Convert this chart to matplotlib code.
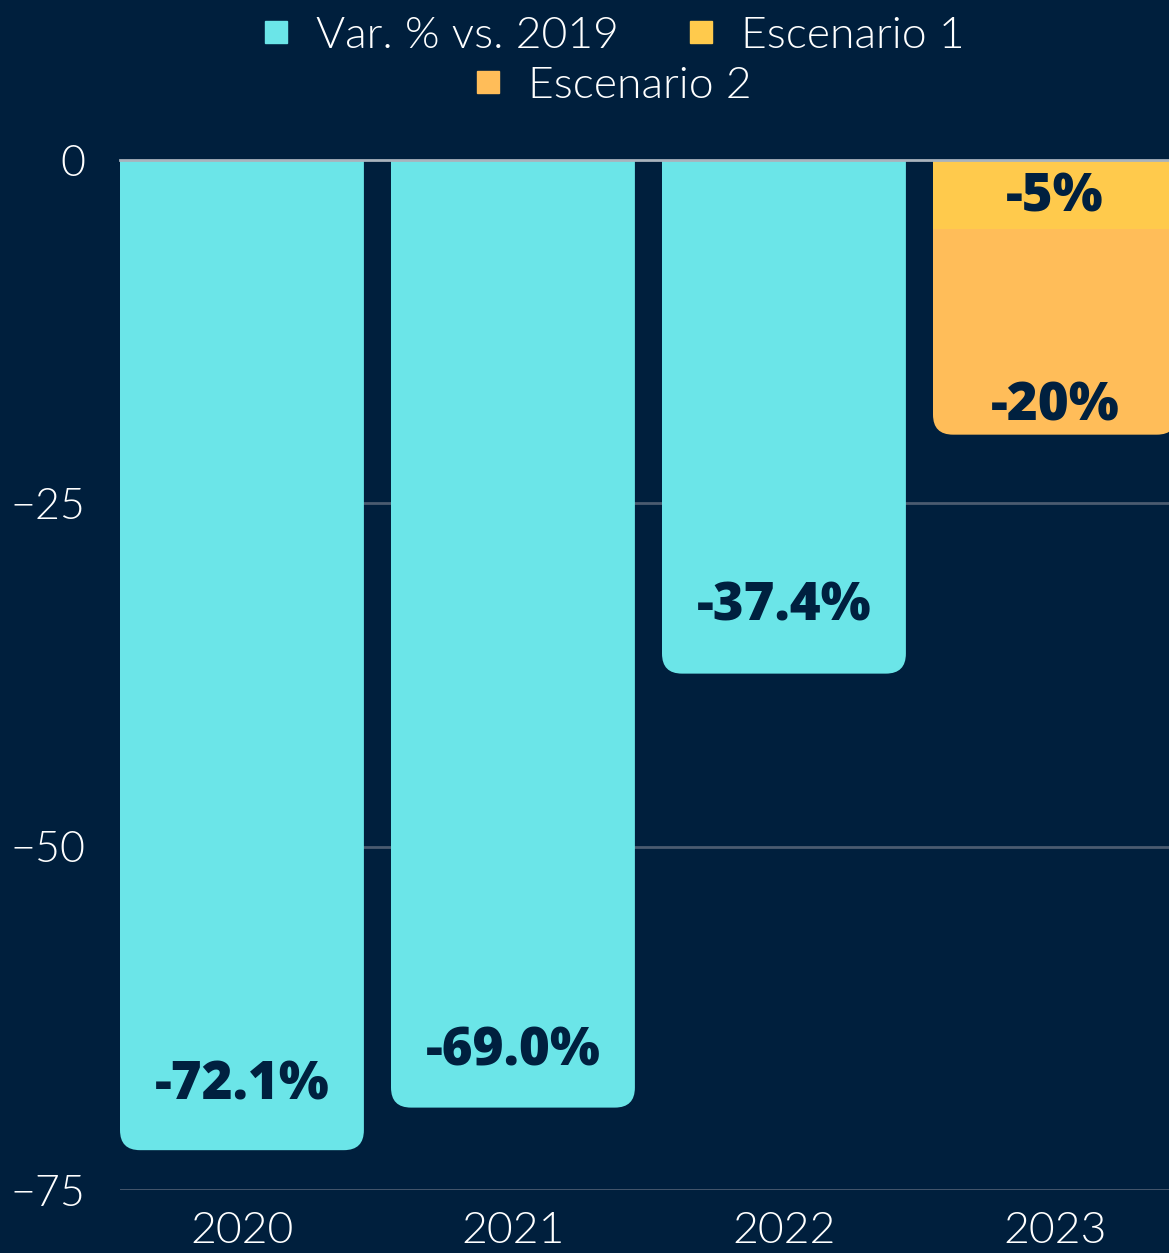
import matplotlib
matplotlib.use("Agg")
import matplotlib.pyplot as plt
import numpy as np
from matplotlib.patches import FancyBboxPatch
from matplotlib.lines import Line2D

# datos
years = ["2020", "2021", "2022", "2023"]
var_vs_2019 = [-72.1, -69.0, -37.4, np.nan]
escenario_1 = -5
escenario_2 = -20
y_ticks = [0, -25, -50, -75]

BG = "#001F3D"
CYAN = "#6BE5E8"
YELLOW = "#FFCA4C"
ORANGE = "#FFBD59"
NAVY = "#00203F"
LIGHT = 300

plt.rcParams["font.family"] = ["Lato", "DejaVu Sans"]

W, H = 1169, 1253
fig = plt.figure(figsize=(W / 100, H / 100), dpi=100, facecolor=BG)
ax = fig.add_axes([120 / W, 1 - 1190 / H, 1 - 120 / W, (1190 - 160) / H])
ax.set_facecolor(BG)

x = np.arange(len(years))
w = 0.9
b1 = ax.bar(x, var_vs_2019, width=w, color=CYAN, zorder=2)
b3 = ax.bar(x[3], escenario_2, width=w, color=ORANGE, zorder=2)
b2 = ax.bar(x[3], escenario_1, width=w, color=YELLOW, zorder=3)

ax.set_xlim(-0.45, -0.45 + (W - 120) / 271)
ax.set_ylim(-75, 0)

# esquinas redondeadas abajo (arriba se recorta en 0)
px_x = 1 / 271
px_y = 75 / 1030
r = 20
def round_bars(bars, rounded=True):
    for rect in bars:
        if np.isnan(rect.get_height()):
            continue
        x0, y0 = rect.get_x(), rect.get_y()
        ww, hh = rect.get_width(), rect.get_height()
        bottom = min(y0, y0 + hh)
        top = max(y0, y0 + hh)
        color = rect.get_facecolor()
        z = rect.get_zorder()
        rect.remove()
        if rounded:
            p = FancyBboxPatch((x0, bottom), ww, top - bottom + 5,
                               boxstyle=f"round,pad=0,rounding_size={r * px_x}",
                               mutation_aspect=px_y / px_x,
                               fc=color, ec="none", zorder=z)
        else:
            p = FancyBboxPatch((x0, bottom), ww, top - bottom,
                               boxstyle="square,pad=0", fc=color, ec="none", zorder=z)
        ax.add_patch(p)

round_bars(b1)
round_bars(b3)
round_bars(b2, rounded=False)

# grid
for t in y_ticks[1:]:
    ax.axhline(t, color="#4B5B70", lw=2, zorder=1)
ax.axhline(0, color="#A9B3BD", lw=2, zorder=4, clip_on=False)

for s in ax.spines.values():
    s.set_visible(False)
ax.set_yticks(y_ticks)
ax.set_yticklabels([str(t).replace("-", "\u2212") for t in y_ticks])
ax.set_xticks(x)
ax.set_xticklabels(years)
ax.tick_params(axis="y", length=0, pad=25, labelsize=31, labelcolor="white")
ax.tick_params(axis="x", length=0, pad=16, labelsize=32, labelcolor="white")
for lab in ax.get_xticklabels() + ax.get_yticklabels():
    lab.set_fontweight(LIGHT)

# etiquetas
lab_font = dict(family=["Open Sans", "DejaVu Sans"], fontweight="heavy",
                fontsize=38, color=NAVY, ha="center", va="center", zorder=5)
offsets = [4.7, 4.05, 4.85]
for i, v in enumerate(var_vs_2019[:3]):
    ax.text(x[i], v + offsets[i], f"{v:.1f}%", **lab_font)
ax.text(x[3], escenario_1 + 2.2, f"{escenario_1}%", **lab_font)
ax.text(x[3], escenario_2 + 2.0, f"{escenario_2}%", **lab_font)

# leyenda
def handle(c):
    return Line2D([], [], marker="s", ls="none", markersize=16,
                  markerfacecolor=c, markeredgecolor=c)

leg_kw = dict(frameon=False, fontsize=32, labelcolor="white", handletextpad=0.5,
              columnspacing=1.45, handlelength=0.8, borderaxespad=0, borderpad=0)
leg1 = fig.legend([handle(CYAN), handle(YELLOW)], ["Var. % vs. 2019", "Escenario 1"],
                  loc="center", bbox_to_anchor=(611 / W, 1 - 36 / H), ncol=2, **leg_kw)
leg2 = fig.legend([handle(ORANGE)], ["Escenario 2"],
                  loc="center", bbox_to_anchor=(611 / W, 1 - 86 / H), **leg_kw)
for lg in (leg1, leg2):
    for t in lg.get_texts():
        t.set_fontweight(LIGHT)

fig.savefig("out.png", dpi=100, facecolor=BG)
